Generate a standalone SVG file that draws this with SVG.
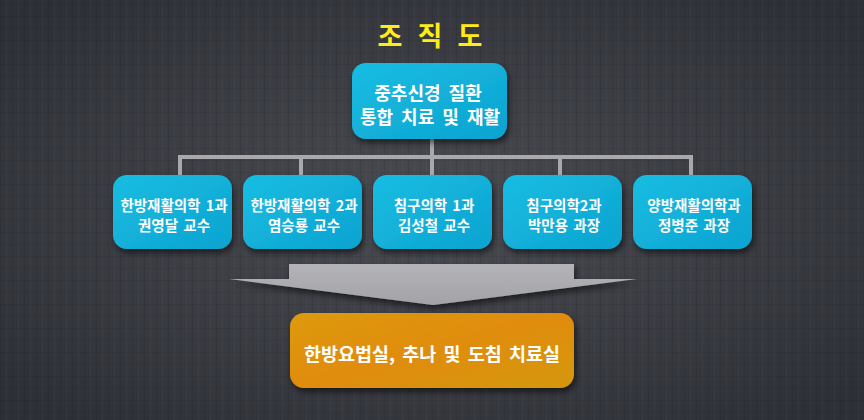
<svg xmlns="http://www.w3.org/2000/svg" width="864" height="420" viewBox="0 0 864 420">
<defs>
<radialGradient id="bg" cx="50%" cy="50%" r="65%">
<stop offset="0" stop-color="#4a4c52"/>
<stop offset="1" stop-color="#2e3037"/>
</radialGradient>
<linearGradient id="cyan" x1="0" y1="0" x2="1" y2="1">
<stop offset="0" stop-color="#16bde2"/>
<stop offset="1" stop-color="#0ea3d0"/>
</linearGradient>
<linearGradient id="orange" x1="0" y1="0" x2="1" y2="1">
<stop offset="0" stop-color="#dd9a10"/>
<stop offset="0.5" stop-color="#e08c0c"/>
<stop offset="1" stop-color="#d49810"/>
</linearGradient>
<linearGradient id="gray" x1="0" y1="0" x2="0" y2="1">
<stop offset="0" stop-color="#b4b4b8"/>
<stop offset="1" stop-color="#a2a2a7"/>
</linearGradient>
<filter id="sh" x="-20%" y="-20%" width="140%" height="150%">
<feDropShadow dx="2" dy="4" stdDeviation="3" flood-color="#000" flood-opacity="0.55"/>
</filter>
<pattern id="tex" width="12" height="12" patternUnits="userSpaceOnUse">
<rect x="0" y="0" width="1" height="12" fill="#000" opacity="0.08"/>
<rect x="6" y="0" width="1" height="12" fill="#fff" opacity="0.03"/>
<rect x="0" y="4" width="12" height="1" fill="#000" opacity="0.06"/>
</pattern>
</defs>
<style>
.node{fill:url(#cyan);filter:url(#sh)}
.t{font-family:"Noto Sans CJK KR","Noto Sans",sans-serif;font-weight:bold;fill:#ffffff;text-anchor:middle}
.s{font-size:14.5px;word-spacing:2px}
.conn{stroke:#a9a9ad;stroke-width:4;fill:none}
.title{font-family:"Noto Sans CJK KR",sans-serif;font-size:27px;font-weight:bold;fill:#ffeb1a;text-anchor:middle}
</style>
<rect width="864" height="420" fill="url(#bg)"/>
<rect width="864" height="420" fill="url(#tex)"/>
<g id="title">
<text class="title" x="390" y="46">조</text>
<text class="title" x="430" y="46">직</text>
<text class="title" x="470" y="46">도</text>
</g>
<g id="connectors">
<path class="conn" d="M432 139 V176 M180 157 H691 M180 155 V176 M301 155 V176 M560 155 V176 M691 155 V176"/>
</g>
<g id="top">
<rect class="node" x="352" y="63" width="155" height="76" rx="14"/>
<text class="t" x="428" y="100" font-size="18" word-spacing="4">중추신경 질환</text>
<text class="t" x="430" y="124" font-size="18" word-spacing="4">통합 치료 및 재활</text>
</g>
<g id="n1">
<rect class="node" x="113" y="175" width="119" height="74" rx="14"/>
<text class="t s" x="174" y="211">한방재활의학 1과</text>
<text class="t s" x="174" y="231">권영달 교수</text>
</g>
<g id="n2">
<rect class="node" x="243" y="175" width="119" height="74" rx="14"/>
<text class="t s" x="304" y="211">한방재활의학 2과</text>
<text class="t s" x="304" y="231">염승룡 교수</text>
</g>
<g id="n3">
<rect class="node" x="373" y="175" width="119" height="74" rx="14"/>
<text class="t s" x="434" y="211">침구의학 1과</text>
<text class="t s" x="434" y="231">김성철 교수</text>
</g>
<g id="n4">
<rect class="node" x="503" y="175" width="119" height="74" rx="14"/>
<text class="t s" x="564" y="211">침구의학2과</text>
<text class="t s" x="564" y="231">박만용 과장</text>
</g>
<g id="n5">
<rect class="node" x="633" y="175" width="119" height="74" rx="14"/>
<text class="t s" x="694" y="211">양방재활의학과</text>
<text class="t s" x="694" y="231">정병준 과장</text>
</g>
<g id="arrow">
<path d="M289 264 H574 V279 H637 L433 305 L229 279 H289 Z" fill="url(#gray)" filter="url(#sh)"/>
</g>
<g id="bottom">
<rect x="290" y="313" width="284" height="75" rx="14" fill="url(#orange)" filter="url(#sh)"/>
<text class="t" x="432" y="361" font-size="18.5" word-spacing="3">한방요법실, 추나 및 도침 치료실</text>
</g>
</svg>
